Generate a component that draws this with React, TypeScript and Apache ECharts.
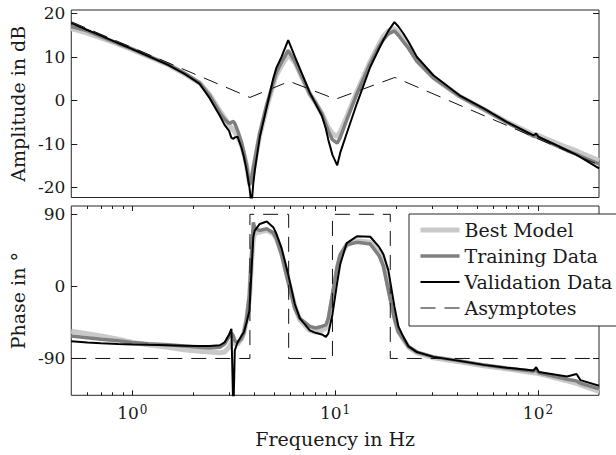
import { useEffect, useRef } from "react";
import * as echarts from "echarts";

// Frequency grid (Hz) shared by the measured / modelled curves
const freq = [0.5, 0.6, 0.7, 0.85, 1.0, 1.2, 1.5, 1.8, 2.15, 2.4, 2.7, 2.85, 3.0, 3.08, 3.15, 3.2, 3.3, 3.45, 3.55, 3.66, 3.78, 3.87, 3.95, 4.02, 4.25, 4.6, 4.95, 5.13, 5.44, 5.87, 6.33, 6.7, 7.5, 8.0, 8.6, 9.0, 9.25, 9.7, 10.24, 10.6, 11.4, 12.8, 14.9, 16.5, 17.3, 18.3, 19.6, 20.5, 21.7, 23, 25.3, 30.5, 41, 54, 70, 95, 98, 101, 139, 155, 162, 200];

// Amplitude in dB
const ampBest = [16.5, 15.5, 14.4, 13.0, 11.7, 10.1, 8.2, 6.2, 4.0, 1.4, -2.4, -4.0, -5.6, -6.3, -6.8, -7.2, -8.2, -10.2, -12.3, -15.0, -19.0, -18.5, -16.0, -14.0, -8.0, -1.5, 3.5, 5.8, 8.0, 10.5, 8.8, 6.3, 1.5, -0.5, -3.0, -5.0, -6.2, -7.6, -8.3, -7.2, -3.8, 2.0, 9.0, 13.0, 14.8, 16.0, 16.5, 15.5, 14.0, 12.3, 9.3, 5.3, 1.0, -2.0, -4.9, -7.8, -7.9, -8.1, -10.8, -11.6, -12.0, -13.8];
const ampTrain = [17.0, 16.0, 14.7, 13.1, 11.8, 10.2, 8.3, 6.3, 4.0, 1.2, -2.8, -4.3, -5.3, -5.0, -4.8, -5.3, -6.8, -9.5, -12.0, -15.0, -19.5, -18.0, -15.5, -13.5, -7.5, -1.0, 4.0, 6.5, 8.8, 11.5, 9.0, 6.5, 1.5, -0.5, -3.0, -5.5, -7.0, -9.0, -9.8, -8.5, -4.5, 1.5, 8.5, 12.5, 14.0, 15.3, 16.0, 15.0, 13.5, 12.0, 9.0, 5.2, 1.0, -2.0, -5.0, -8.2, -8.3, -8.6, -11.5, -12.4, -12.8, -14.6];
const ampValid = [17.8, 16.2, 14.9, 13.2, 11.8, 10.2, 8.2, 6.2, 3.8, 0.6, -3.5, -5.6, -7.0, -8.6, -8.8, -8.5, -8.3, -10.8, -13.0, -16.0, -20.0, -24.0, -19.0, -16.0, -8.4, -1.5, 5.0, 7.5, 10.0, 13.9, 10.1, 7.3, 1.8, -0.7, -3.5, -6.5, -9.0, -12.5, -14.9, -12.0, -7.6, -0.7, 7.7, 12.0, 13.9, 16.0, 18.0, 17.0, 15.4, 13.5, 10.0, 5.8, 1.2, -1.8, -4.9, -8.0, -7.6, -8.4, -11.4, -12.5, -13.0, -15.6];

// Phase in degrees
const phaseBest = [-56, -59, -62, -66, -70, -73, -76, -79, -81, -82, -83, -82, -76, -70, -70, -72, -72, -66, -58, -42, -15, 30, 60, 66, 68, 70, 66, 60, 42, 8, -25, -42, -55, -57, -55, -52, -45, -15, 22, 38, 52, 57, 55, 42, 30, 0, -38, -56, -66, -76, -83, -89, -94, -99, -103, -108, -108, -109, -118, -121, -123, -131];
const phaseTrain = [-62, -64, -66, -68, -70, -71.5, -73, -74.5, -76, -77, -76, -72, -63, -58, -62, -68, -70, -65, -58, -40, -10, 40, 80, 72, 70, 72, 67, 60, 40, 5, -28, -40, -50, -52, -50, -48, -40, -10, 25, 40, 52, 55, 53, 38, 25, -5, -40, -57, -66, -75, -82, -88, -93, -98, -102, -106, -104, -108, -116, -118, -121, -128];
const phaseValid = [-68.5, -70, -71, -72, -72.5, -73, -73.5, -74, -74.5, -74.5, -73.5, -70, -60, -53, -160, -80, -70, -62, -57, -45, -30, 20, 62, 70, 78, 81, 74, 66, 48, 15, -22, -40, -55, -58, -60, -63, -59, -35, 5, 28, 54, 62.5, 62, 49, 40, 20, -25, -50, -63, -75, -82, -88, -93, -98, -101.5, -105, -101, -107, -112.5, -109.5, -117, -124];

// Asymptotes
const asymAmpFreq = [0.5, 3.8, 5.95, 10.05, 19.7, 200];
const asymAmp = [18.1, 0.7, 4.4, 0.3, 5.3, -14.8];
const asymPhaseFreq = [0.5, 3.8, 3.8, 5.9, 5.9, 9.7, 9.7, 18.7, 18.7, 200];
const asymPhase = [-90, -90, 90, 90, -90, -90, 90, 90, -90, -90];

// Ticks
const ampTicks = [-20, -10, 0, 10, 20];
const phaseTicks = [-90, 0, 90];
const freqMajor = [1, 10, 100];
const freqMinor = [0.6, 0.7, 0.8, 0.9, 2, 3, 4, 5, 6, 7, 8, 9, 20, 30, 40, 50, 60, 70, 80, 90];

const seriesNames = ["Best Model", "Training Data", "Validation Data", "Asymptotes"];

export default function App() {
  const ref = useRef<HTMLDivElement>(null);

  useEffect(() => {
    if (!ref.current) return;
    const chart = echarts.init(ref.current, null, { renderer: "svg" });
    const font = "DejaVu Serif";
    const ink = "#1a1a1a";
    const pairs = (xs: number[], ys: number[]) => xs.map((x, i) => [x, ys[i]]);

    const tickStyle = { color: ink, width: 1 };
    const logBase = {
      type: "log" as const,
      logBase: 10,
      min: 0.5,
      max: 200,
      axisLine: { show: false, onZero: false },
      splitLine: { show: false },
      axisLabel: { show: false },
      axisTick: { show: false },
    };

    const xAxes: any[] = [
      { ...logBase, gridIndex: 0 },
      {
        ...logBase,
        gridIndex: 1,
        position: "bottom",
        axisTick: { show: true, inside: true, length: 5, customValues: freqMajor, lineStyle: tickStyle },
        axisLabel: {
          show: true,
          customValues: freqMajor,
          margin: 9,
          formatter: (v: number) => `{b|10}{s|${Math.round(Math.log10(v))}}`,
          rich: {
            b: { fontFamily: font, fontSize: 17, color: ink },
            s: { fontFamily: font, fontSize: 12, color: ink, verticalAlign: "top", padding: [0, 0, 0, 1] },
          },
        },
        name: "Frequency in Hz",
        nameLocation: "middle",
        nameGap: 34,
        nameTextStyle: { fontFamily: font, fontSize: 19, color: ink },
      },
      {
        ...logBase,
        gridIndex: 1,
        position: "bottom",
        axisTick: { show: true, inside: true, length: 3, customValues: freqMinor, lineStyle: tickStyle },
      },
      {
        ...logBase,
        gridIndex: 1,
        position: "top",
        axisTick: { show: true, inside: true, length: 5, customValues: freqMajor, lineStyle: tickStyle },
      },
      {
        ...logBase,
        gridIndex: 1,
        position: "top",
        axisTick: { show: true, inside: true, length: 3, customValues: freqMinor, lineStyle: tickStyle },
      },
    ];

    const yBase = (grid: number, min: number, max: number, ticks: number[], side: "left" | "right", name?: string) => ({
      type: "value" as const,
      gridIndex: grid,
      min,
      max,
      position: side,
      axisLine: { show: false, onZero: false },
      splitLine: { show: false },
      axisTick: { show: true, inside: true, length: 6, customValues: ticks, lineStyle: tickStyle },
      axisLabel: {
        show: side === "left",
        customValues: ticks,
        margin: 6,
        fontFamily: font,
        fontSize: 17,
        color: ink,
      },
      name: name,
      nameLocation: "middle" as const,
      nameGap: 42,
      nameTextStyle: { fontFamily: font, fontSize: 19, color: ink },
    });

    const yAxes = [
      yBase(0, -22.3, 20.8, ampTicks, "left", "Amplitude in dB"),
      yBase(0, -22.3, 20.8, ampTicks, "right"),
      yBase(1, -136, 100.4, phaseTicks, "left", "Phase in °"),
      yBase(1, -136, 100.4, phaseTicks, "right"),
    ];

    const styles = [
      { color: "#c9c9c9", width: 5, type: "solid" as any },
      { color: "#7f7f7f", width: 3.5, type: "solid" as any },
      { color: "#000000", width: 2, type: "solid" as any },
      { color: "#111111", width: 1, type: [15, 9] as any },
    ];

    const mk = (name: string, data: number[][], xi: number, yi: number, st: any, z: number) => ({
      type: "line" as const,
      name,
      xAxisIndex: xi,
      yAxisIndex: yi,
      data,
      symbol: "none",
      showSymbol: false,
      clip: true,
      silent: true,
      z,
      lineStyle: st,
      itemStyle: { color: st.color },
      emphasis: { disabled: true },
    });

    const series = [
      mk(seriesNames[0], pairs(freq, ampBest), 0, 0, styles[0], 2),
      mk(seriesNames[1], pairs(freq, ampTrain), 0, 0, styles[1], 3),
      mk(seriesNames[2], pairs(freq, ampValid), 0, 0, styles[2], 4),
      mk(seriesNames[3], pairs(asymAmpFreq, asymAmp), 0, 0, styles[3], 5),
      mk(seriesNames[0], pairs(freq, phaseBest), 1, 2, styles[0], 2),
      mk(seriesNames[1], pairs(freq, phaseTrain), 1, 2, styles[1], 3),
      mk(seriesNames[2], pairs(freq, phaseValid), 1, 2, styles[2], 4),
      mk(seriesNames[3], pairs(asymPhaseFreq, asymPhase), 1, 2, styles[3], 5),
    ];

    chart.setOption({
      animation: false,
      backgroundColor: "#ffffff",
      textStyle: { fontFamily: font },
      grid: [
        { left: 71, top: 10, width: 528, height: 187.5, show: true, borderColor: "#262626", borderWidth: 1, backgroundColor: "transparent" },
        { left: 71, top: 206, width: 528, height: 189.3, show: true, borderColor: "#262626", borderWidth: 1, backgroundColor: "transparent" },
      ],
      xAxis: xAxes,
      yAxis: yAxes,
      legend: {
        show: true,
        orient: "vertical",
        left: 409,
        top: 214,
        padding: [6, 14, 8, 9],
        itemWidth: 39,
        itemHeight: 14,
        itemGap: 6,
        selectedMode: false,
        backgroundColor: "#ffffff",
        borderColor: "#262626",
        borderWidth: 1,
        itemStyle: { opacity: 0 },
        textStyle: { fontFamily: font, fontSize: 19, color: ink, lineHeight: 20 },
        data: seriesNames.map((n, i) => ({
          name: n,
          lineStyle: { color: styles[i].color, width: styles[i].width, type: styles[i].type },
          itemStyle: { opacity: 0 },
        })),
        z: 10,
      },
      series,
    });

    return () => chart.dispose();
  }, []);

  return <div ref={ref} style={{ position: "fixed", left: 0, top: 0, width: 616, height: 455 }} />;
}
